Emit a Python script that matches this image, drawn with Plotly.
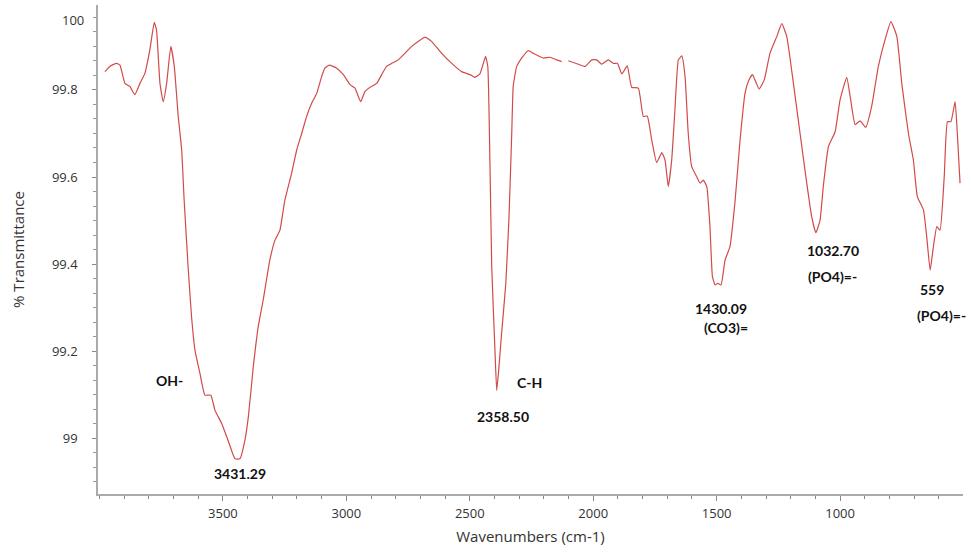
import plotly.graph_objects as go

# Wavenumbers (cm-1) and % Transmittance
wavenumber = [
    3978, 3958, 3931, 3917, 3897, 3877, 3857, 3836, 3816, 3796, 3778, 3769, 3755, 3742, 3728,
    3711, 3697, 3681, 3667, 3657, 3641, 3627, 3613, 3593, 3573, 3549, 3532, 3505, 3479, 3451,
    3431, 3411, 3397, 3377, 3357, 3337, 3310, 3289, 3269, 3249, 3222, 3201, 3181, 3161, 3141,
    3120, 3100, 3087, 3069, 3039, 3012, 2985, 2965, 2942, 2925, 2904, 2877, 2857, 2837, 2816,
    2790, 2763, 2735, 2709, 2681, 2654, 2614, 2573, 2533, 2499, 2479, 2459, 2445, 2436, 2427,
    2418, 2411, 2398, 2391, 2384, 2371, 2354, 2341, 2330, 2324, 2310, 2290, 2263, 2243, 2229,
    2202, 2175, 2148, 2128, 2114, 2101, 2060, 2033, 2006, 1986, 1966, 1939, 1918, 1902, 1884,
    1862, 1844, 1817, 1797, 1781, 1763, 1743, 1722, 1709, 1696, 1682, 1669, 1655, 1641, 1628,
    1615, 1601, 1581, 1567, 1554, 1540, 1527, 1517, 1506, 1496, 1482, 1466, 1446, 1425, 1405,
    1385, 1369, 1355, 1328, 1307, 1284, 1256, 1236, 1216, 1189, 1162, 1135, 1115, 1098, 1081,
    1068, 1047, 1020, 1000, 973, 957, 939, 919, 896, 872, 845, 818, 794, 770, 750,
    723, 703, 687, 662, 649, 635, 622, 608, 595, 578, 565, 551, 534, 525, 514,
]
transmittance = [
    99.842, 99.854, 99.861, 99.857, 99.815, 99.808, 99.789, 99.815, 99.838, 99.892, 99.955, 99.938, 99.815, 99.773, 99.815,
    99.900, 99.854, 99.739, 99.662, 99.547, 99.394, 99.279, 99.202, 99.149, 99.099, 99.099, 99.064, 99.034, 98.995, 98.953,
    98.953, 98.995, 99.049, 99.164, 99.256, 99.317, 99.409, 99.455, 99.478, 99.547, 99.608, 99.662, 99.700, 99.739, 99.769,
    99.792, 99.831, 99.850, 99.857, 99.850, 99.835, 99.812, 99.804, 99.773, 99.796, 99.806, 99.815, 99.835, 99.854, 99.861,
    99.869, 99.884, 99.900, 99.911, 99.921, 99.911, 99.884, 99.861, 99.842, 99.835, 99.829, 99.837, 99.861, 99.877, 99.854,
    99.624, 99.394, 99.202, 99.110, 99.149, 99.241, 99.356, 99.509, 99.700, 99.808, 99.854, 99.873, 99.890, 99.884, 99.880,
    99.873, 99.875, 99.869, 99.865, None, 99.867, 99.859, 99.854, 99.869, 99.869, 99.859, 99.869, 99.861, 99.861, 99.837,
    99.855, 99.806, 99.804, 99.739, 99.740, 99.685, 99.633, 99.656, 99.639, 99.578, 99.639, 99.754, 99.869, 99.878, 99.831,
    99.700, 99.624, 99.601, 99.586, 99.593, 99.578, 99.486, 99.371, 99.352, 99.356, 99.352, 99.409, 99.440, 99.547, 99.685,
    99.792, 99.823, 99.835, 99.802, 99.823, 99.884, 99.923, 99.952, 99.923, 99.815, 99.700, 99.586, 99.509, 99.472, 99.501,
    99.578, 99.670, 99.704, 99.777, 99.829, 99.777, 99.720, 99.729, 99.714, 99.762, 99.854, 99.915, 99.957, 99.923, 99.815,
    99.700, 99.639, 99.555, 99.524, 99.463, 99.386, 99.440, 99.486, 99.478, 99.601, 99.727, 99.727, 99.773, 99.700, 99.586,
]

# Peak annotations (text, wavenumber, transmittance)
label_text = ["OH-", "3431.29", "C-H", "2358.50", "1430.09", "(CO3)=", "1032.70", "(PO4)=-", "559", "(PO4)=-"]
label_x = [3715, 3431, 2259, 2364, 1482, 1462, 1030, 1030, 626, 588]
label_y = [99.133, 98.920, 99.129, 99.050, 99.299, 99.254, 99.432, 99.371, 99.342, 99.283]

y_tick_vals = [99, 99.2, 99.4, 99.6, 99.8]
y_tick_text = ["99", "99.2", "99.4", "99.6", "99.8"]
x_tick_vals = [1000, 1500, 2000, 2500, 3000, 3500]

fig = go.Figure()
fig.add_trace(go.Scatter(
    x=wavenumber, y=transmittance, mode="lines",
    line=dict(color="#d24a4a", width=1.2, shape="spline", smoothing=0.4),
    connectgaps=False, showlegend=False, hoverinfo="x+y",
))

for t, xv, yv in zip(label_text, label_x, label_y):
    fig.add_annotation(x=xv, y=yv, text="<b>" + t + "</b>", showarrow=False, xref="x", yref="y",
                       font=dict(family="Lato, Open Sans, sans-serif", size=14, color="#111111"))

tick_font = dict(family="Open Sans, sans-serif", size=13, color="#333333")
title_font = dict(family="Open Sans, sans-serif", size=15, color="#333333")

# top tick label "100" (drawn slightly below the plot edge as in the reference)
fig.add_annotation(x=0, y=0.969, xref="paper", yref="paper", text="100", showarrow=False,
                   xanchor="right", yanchor="middle", xshift=-12, font=tick_font)

fig.update_xaxes(
    range=[4006, 502], autorange=False, automargin=False,
    tickvals=x_tick_vals, ticks="outside", ticklen=5, tickcolor="#888888",
    minor=dict(dtick=100, ticks="outside", ticklen=3, tickcolor="#888888", showgrid=False),
    showline=True, linecolor="#aaaaaa", linewidth=1.5, mirror=False,
    showgrid=False, zeroline=False, tickfont=tick_font, ticklabelstandoff=2,
    title=dict(text="Wavenumbers (cm-1)", font=title_font, standoff=10),
)
fig.update_yaxes(
    range=[98.872, 99.995], autorange=False, automargin=False,
    tickvals=y_tick_vals, ticktext=y_tick_text, ticks="outside", ticklen=4, tickcolor="#888888",
    minor=dict(tick0=99, dtick=0.2 / 6, ticks="outside", ticklen=3, tickcolor="#999999", showgrid=False),
    showline=True, linecolor="#aaaaaa", linewidth=1.5,
    showgrid=False, zeroline=False, tickfont=tick_font, ticklabelstandoff=12,
    title=dict(text="% Transmittance", font=title_font, standoff=24),
)
fig.update_layout(
    width=971, height=554,
    margin=dict(l=98, r=8, t=5, b=60),
    plot_bgcolor="white", paper_bgcolor="white",
)
fig.write_html("out.html", config={"displayModeBar": False},
               post_script="document.body.style.margin='0px';")
